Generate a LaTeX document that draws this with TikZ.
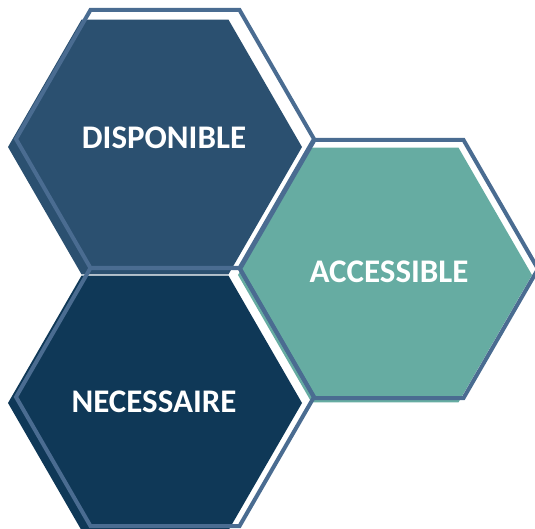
\documentclass[tikz,border=0pt]{standalone}
\usepackage{fontspec}
\setmainfont{Carlito}
\usetikzlibrary{shapes.geometric}

\definecolor{dispo}{HTML}{2B5070}
\definecolor{neces}{HTML}{0F3857}
\definecolor{acces}{HTML}{66ACA2}
\definecolor{contour}{HTML}{4A6C91}

\begin{document}
\begin{tikzpicture}[x=1pt,y=-1pt,
  hexa/.style={regular polygon, regular polygon sides=6, minimum size=294pt, inner sep=0pt},
  cadre/.style={hexa, draw=contour, line width=4pt, minimum size=298pt},
  mot/.style={text=white, font=\fontsize{33}{33}\selectfont\bfseries}]
\useasboundingbox (0,0) rectangle (535,529);
% disponible
\node[hexa, fill=dispo] (dispo) at (155,147) {};
\node[cadre] (cadreDispo) at (165,139) {};
% accessible
\node[hexa, fill=acces] (acces) at (385,275) {};
\node[cadre] (cadreAcces) at (389,269) {};
% necessaire
\node[hexa, fill=neces] (neces) at (155,403) {};
\node[cadre] (cadreNeces) at (165,397) {};
% textes
\node[mot] (tDispo) at (164,138) {DISPONIBLE};
\node[mot] (tAcces) at (389,272) {ACCESSIBLE};
\node[mot] (tNeces) at (154,402) {NECESSAIRE};
\end{tikzpicture}
\end{document}
